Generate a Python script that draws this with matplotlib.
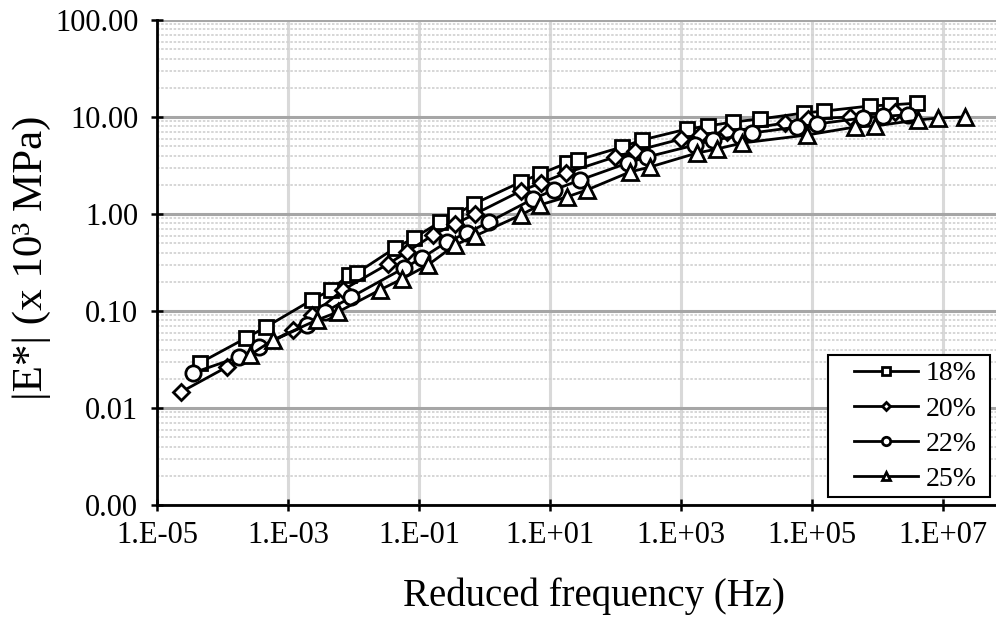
import matplotlib
matplotlib.use("Agg")
import matplotlib.pyplot as plt
from matplotlib.patches import Rectangle
from matplotlib.ticker import FixedLocator, FuncFormatter, LogLocator, NullLocator
import numpy as np

plt.rcParams['font.family'] = ['Liberation Serif', 'DejaVu Serif']

# Reduced frequency (Hz) and dynamic modulus |E*| (x 10^3 MPa) for each binder content
freq_18 = [4.5e-5, 2.29e-4, 4.6e-4, 2.32e-3, 4.53e-3, 8.5e-3, 1.13e-2, 4.3e-2, 8.4e-2,
           0.209, 0.355, 0.69, 3.6, 7.0, 18.2, 26.7, 126, 254, 1236, 2580, 6220,
           1.61e4, 7.55e4, 1.52e5, 7.68e5, 1.55e6, 4.0e6]
mod_18 = [0.0291, 0.0527, 0.0684, 0.130, 0.165, 0.235, 0.247, 0.446, 0.566,
          0.828, 0.977, 1.27, 2.14, 2.58, 3.36, 3.60, 4.91, 5.79, 7.52, 8.08, 8.88,
          9.54, 11.0, 11.5, 13.0, 13.3, 13.9]

freq_20 = [2.32e-5, 1.17e-4, 1.19e-3, 2.32e-3, 6.9e-3, 3.37e-2, 6.56e-2, 0.164, 0.355,
           0.716, 3.6, 7.3, 17.5, 98, 199, 1000, 1950, 5040, 3.87e4, 8.69e4,
           3.8e5, 1.85e6]
mod_20 = [0.0146, 0.0265, 0.0637, 0.091, 0.165, 0.305, 0.406, 0.608, 0.789,
          1.00, 1.73, 2.09, 2.65, 3.87, 4.46, 5.93, 6.52, 7.00, 8.67, 9.54,
          10.0, 11.3]

freq_22 = [3.55e-5, 1.79e-4, 3.6e-4, 1.95e-3, 3.67e-3, 9.2e-3, 5.9e-2, 0.111, 0.267,
           0.541, 1.17, 5.5, 11.5, 28.7, 155, 303, 1640, 3080, 7960, 1.21e4,
           5.9e4, 1.19e5, 6.01e5, 1.21e6, 2.92e6]
mod_22 = [0.0230, 0.0336, 0.0425, 0.0718, 0.0977, 0.139, 0.277, 0.352, 0.515,
          0.637, 0.828, 1.43, 1.77, 2.24, 3.36, 3.87, 5.14, 5.79, 6.37, 6.84,
          7.88, 8.47, 9.77, 10.2, 10.5]

freq_25 = [2.63e-4, 5.9e-4, 2.77e-3, 5.8e-3, 2.54e-2, 5.5e-2, 0.137, 0.355, 0.716,
           3.6, 7.0, 18.2, 36.7, 166, 336, 1750, 3550, 8530, 8.4e4, 4.53e5,
           9.16e5, 4.15e6, 8.4e6, 2.17e7]
mod_25 = [0.0352, 0.0503, 0.0807, 0.0977, 0.165, 0.214, 0.298, 0.479, 0.593,
          0.977, 1.24, 1.50, 1.77, 2.71, 3.05, 4.25, 4.68, 5.39, 6.52, 7.88,
          8.08, 9.31, 9.77, 10.0]

series = [
    ("18%", freq_18, mod_18, "s", 10.5),
    ("20%", freq_20, mod_20, "D", 8),
    ("22%", freq_22, mod_22, "o", 11),
    ("25%", freq_25, mod_25, "^", 11.5),
]

W, H = 996, 629
fig = plt.figure(figsize=(W / 100, H / 100), dpi=100)
ax = fig.add_axes([157 / W, 1 - 505 / H, 1 - 157 / W, 485 / H])

for label, f, e, m, ms in series:
    ax.plot(f, e, color="black", lw=2.0, marker=m, ms=ms, mfc="white",
            mec="black", mew=2.0, label=label, zorder=3)

ax.set_xscale("log")
ax.set_yscale("log")
ax.set_xlim(1e-5, 10 ** 7.81)
ax.set_ylim(1e-3, 100)

# x ticks every two decades, labelled in spreadsheet-style scientific notation
xt = [10.0 ** k for k in range(-5, 8, 2)]
ax.xaxis.set_major_locator(FixedLocator(xt))
ax.xaxis.set_minor_locator(NullLocator())
ax.xaxis.set_major_formatter(FuncFormatter(
    lambda v, p: "1.E{:+03d}".format(int(round(np.log10(v))))))

ax.yaxis.set_major_locator(LogLocator(base=10, numticks=10))
ax.yaxis.set_minor_locator(LogLocator(base=10, subs=np.arange(2, 10), numticks=20))
ax.yaxis.set_major_formatter(FuncFormatter(lambda v, p: "{:.2f}".format(v)))

ax.grid(True, which="major", axis="y", color="#a6a6a6", lw=2.2, zorder=0)
ax.grid(True, which="minor", axis="y", color="#d0d0d0", lw=1.2, ls=(0, (1.5, 1)), zorder=0)
ax.grid(True, which="major", axis="x", color="#d9d9d9", lw=2.2, zorder=0)
ax.set_axisbelow(True)

for s in ("top", "right"):
    ax.spines[s].set_visible(False)
for s in ("left", "bottom"):
    ax.spines[s].set_linewidth(2.0)
    ax.spines[s].set_color("black")

ax.tick_params(axis="both", which="major", direction="inout", length=9, width=1.8,
               labelsize=22, colors="black")
ax.tick_params(axis="y", which="minor", length=0)
ax.tick_params(axis="x", pad=7)
ax.tick_params(axis="y", pad=9)

fig.text(594 / W, 1 - 596 / H, "Reduced frequency (Hz)", fontsize=28,
         ha="center", va="center")
fig.text(32 / W, 1 - 258 / H, "|E*| (x 10³ MPa)", fontsize=31,
         ha="center", va="center", rotation=90)

# legend box with white fill, drawn in figure pixels
ax.add_patch(Rectangle((828 / W, 1 - 497 / H), 162 / W, 142 / H,
                       transform=fig.transFigure, facecolor="white",
                       edgecolor="black", lw=1.5, zorder=4.5, clip_on=False))

leg = ax.legend(loc="lower right", frameon=False, fontsize=20, markerscale=0.55,
                handlelength=2.3, handletextpad=0.3, labelspacing=0.35,
                borderpad=0.0, borderaxespad=0.0,
                bbox_to_anchor=(977 / W, 1 - 492 / H),
                bbox_transform=fig.transFigure)
leg.set_zorder(6)

fig.savefig("out.png", dpi=100)
